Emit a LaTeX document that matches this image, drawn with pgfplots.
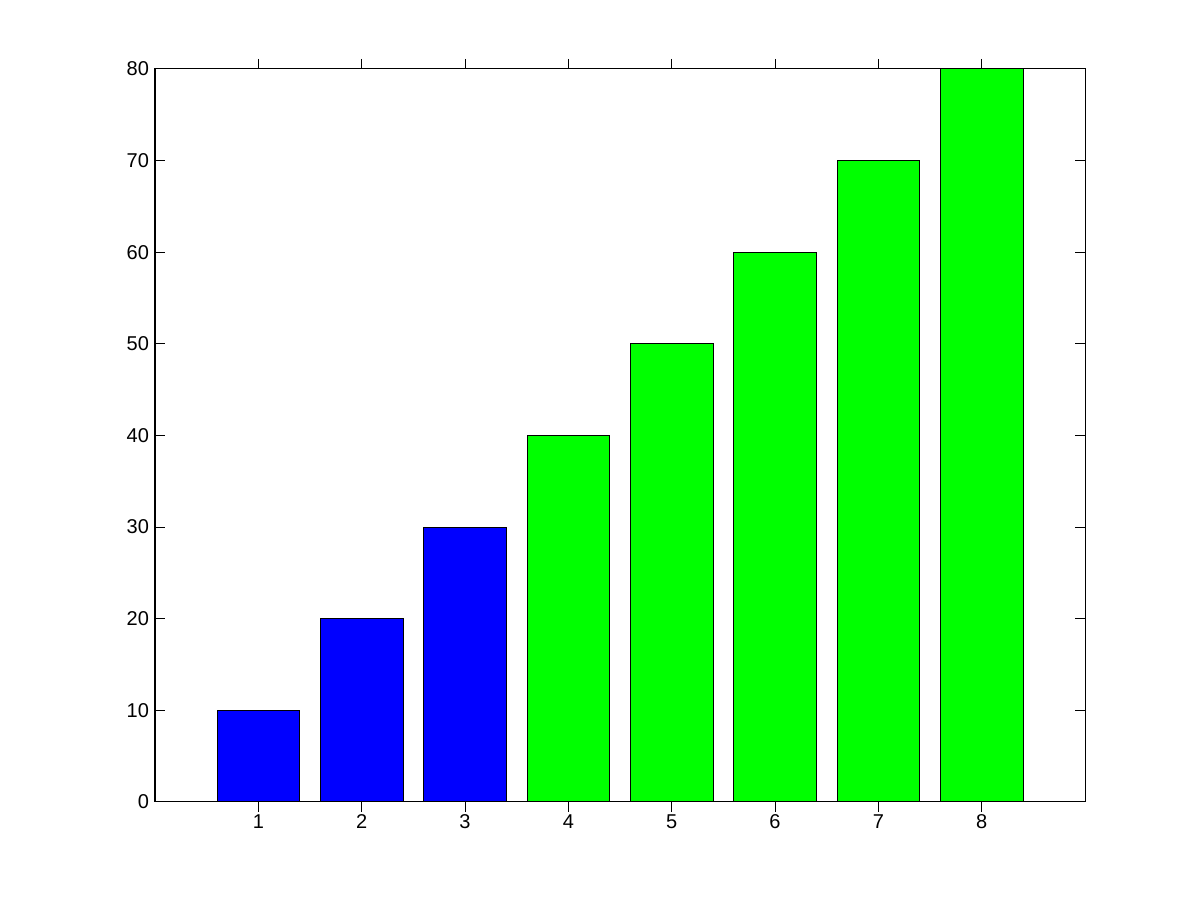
\documentclass[border=0pt]{standalone}
\usepackage{pgfplots}
\pgfplotsset{compat=1.18}
\usepackage{fontspec}
\setmainfont{Liberation Sans}
\definecolor{mblue}{RGB}{0,0,255}
\definecolor{mgreen}{RGB}{0,255,0}
\begin{document}
\begin{tikzpicture}[x=0.75pt,y=0.75pt]
  % page frame, 1200x900 px at 0.75pt per px
  \path (0,0) rectangle (1200,900);
  \begin{axis}[
      at={(150,107)}, anchor=south west,
      scale only axis,
      width=697.5pt, height=549.75pt,
      xmin=0, xmax=9, ymin=0, ymax=80,
      xtick={1,...,8},
      ytick={0,10,...,80},
      tick align=inside,
      major tick length=7.5pt,
      axis line style={line width=0.75pt},
      every tick/.style={black, line width=0.75pt},
      tick label style={font=\fontsize{15}{17}\selectfont},
      /pgf/number format/assume math mode=true,
      xticklabel style={yshift=1.5pt},
      yticklabel style={xshift=-1pt},
      ybar, bar width=0.8, bar shift=0pt,
      axis on top,
    ]
    \addplot[fill=mblue, draw=black, line width=0.75pt] coordinates {(1,10) (2,20) (3,30)};
    \addplot[fill=mgreen, draw=black, line width=0.75pt] coordinates {(4,40) (5,50) (6,60) (7,70) (8,80)};
  \end{axis}
\end{tikzpicture}
\end{document}
